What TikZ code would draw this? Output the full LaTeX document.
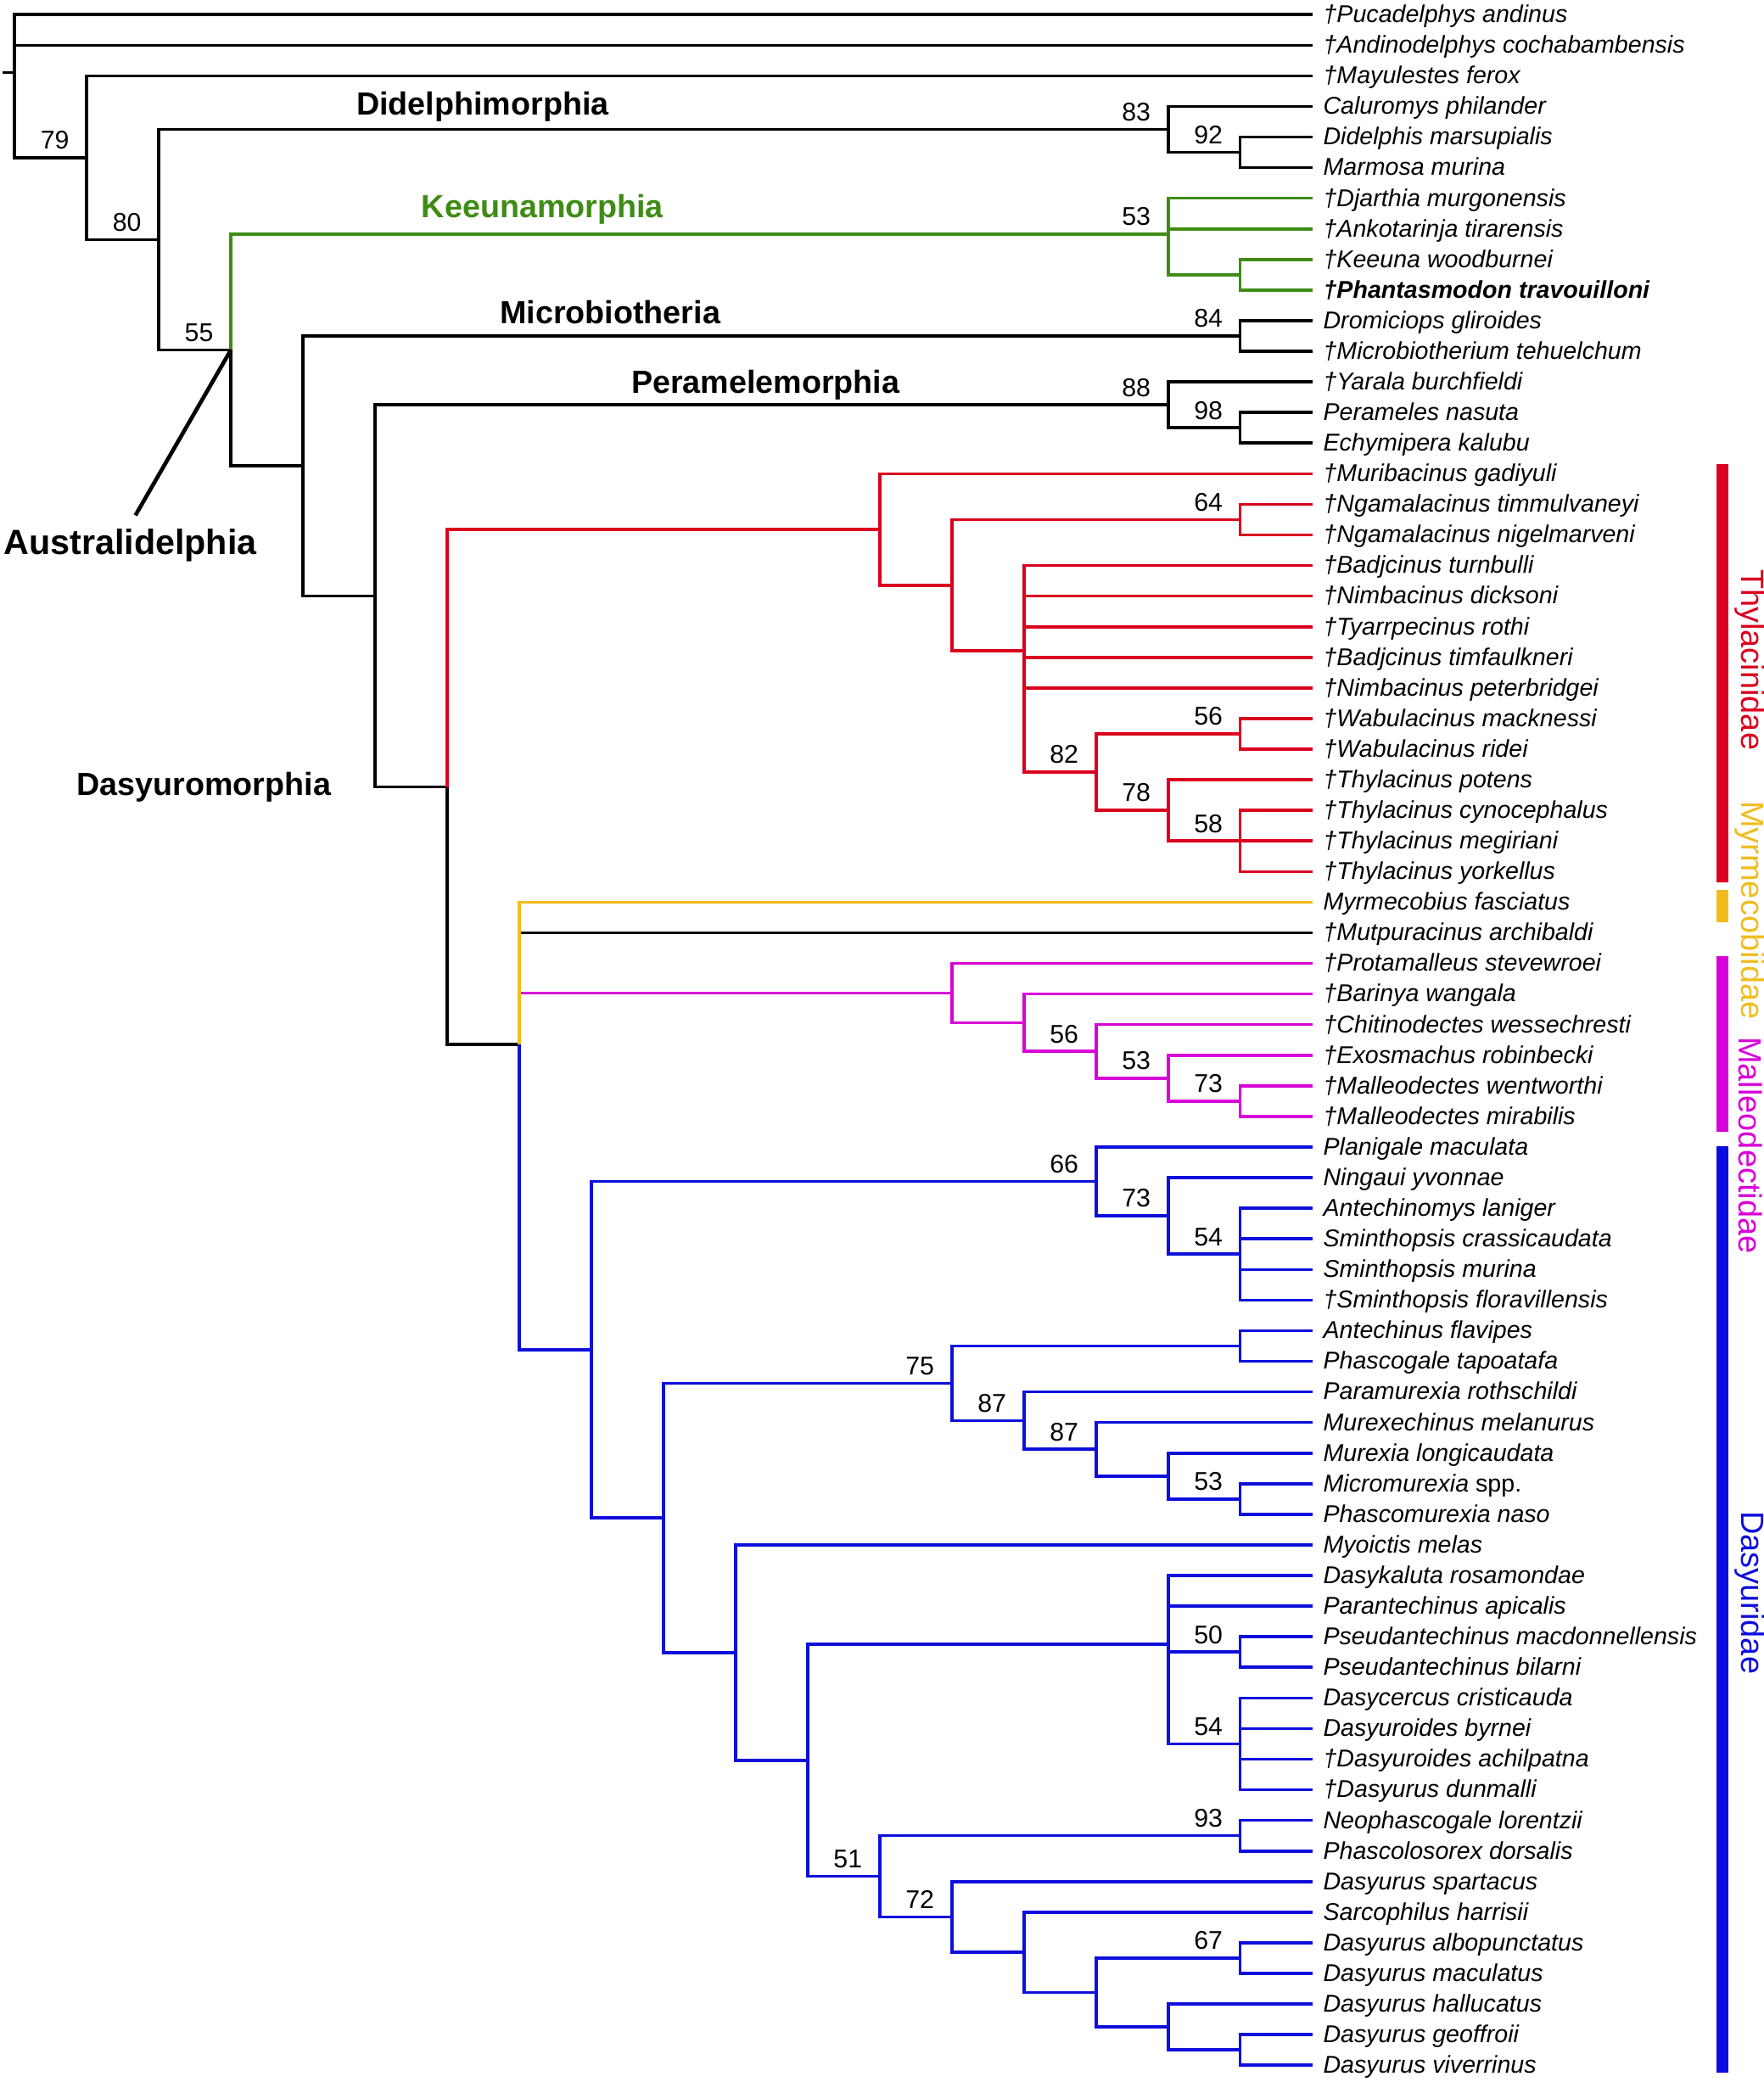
\documentclass[tikz,border=0pt]{standalone}
\usepackage{fontspec}
\setmainfont{Liberation Sans}
\usetikzlibrary{positioning}

\definecolor{keegreen}{RGB}{62,140,22}
\definecolor{thyred}{RGB}{218,0,30}
\definecolor{myryellow}{RGB}{240,188,30}
\definecolor{malmagenta}{RGB}{216,0,216}
\definecolor{dasblue}{RGB}{14,14,220}

\tikzset{
  branch/.style={line width=1.3pt},
  taxon/.style={anchor=west, inner xsep=4.5pt, inner ysep=0pt, text height=6.8pt, text depth=0pt, font=\fontsize{10.4}{12}\selectfont\itshape},
  support/.style={anchor=base, inner sep=0pt, xshift=-0.48cm, yshift=0.13cm, font=\fontsize{11}{13}\selectfont},
  clade/.style={anchor=base, inner sep=0pt, font=\fontsize{13.7}{16}\selectfont\bfseries},
  family/.style={rotate=-90, inner sep=0pt, font=\fontsize{13.8}{16}\selectfont}
}

\begin{document}
\begin{tikzpicture}[x=1.0858cm, y=-0.461cm]
  \useasboundingbox (-0.2026,-0.4772) rectangle (24.259,67.548);

  % taxa
  \node[taxon] (puc) at (18,0) {†Pucadelphys andinus};
  \node[taxon] (andi) at (18,1) {†Andinodelphys cochabambensis};
  \node[taxon] (may) at (18,2) {†Mayulestes ferox};
  \node[taxon] (calu) at (18,3) {Caluromys philander};
  \node[taxon] (didel) at (18,4) {Didelphis marsupialis};
  \node[taxon] (marm) at (18,5) {Marmosa murina};
  \node[taxon] (djar) at (18,6) {†Djarthia murgonensis};
  \node[taxon] (anko) at (18,7) {†Ankotarinja tirarensis};
  \node[taxon] (keeu) at (18,8) {†Keeuna woodburnei};
  \node[taxon] (phan) at (18,9) {\bfseries †Phantasmodon travouilloni};
  \node[taxon] (drom) at (18,10) {Dromiciops gliroides};
  \node[taxon] (micro) at (18,11) {†Microbiotherium tehuelchum};
  \node[taxon] (yara) at (18,12) {†Yarala burchfieldi};
  \node[taxon] (pera) at (18,13) {Perameles nasuta};
  \node[taxon] (echy) at (18,14) {Echymipera kalubu};
  \node[taxon] (muri) at (18,15) {†Muribacinus gadiyuli};
  \node[taxon] (ngtim) at (18,16) {†Ngamalacinus timmulvaneyi};
  \node[taxon] (ngnig) at (18,17) {†Ngamalacinus nigelmarveni};
  \node[taxon] (badtur) at (18,18) {†Badjcinus turnbulli};
  \node[taxon] (nimdic) at (18,19) {†Nimbacinus dicksoni};
  \node[taxon] (tyar) at (18,20) {†Tyarrpecinus rothi};
  \node[taxon] (badtim) at (18,21) {†Badjcinus timfaulkneri};
  \node[taxon] (nimpet) at (18,22) {†Nimbacinus peterbridgei};
  \node[taxon] (wabmac) at (18,23) {†Wabulacinus macknessi};
  \node[taxon] (wabrid) at (18,24) {†Wabulacinus ridei};
  \node[taxon] (thypot) at (18,25) {†Thylacinus potens};
  \node[taxon] (thycyn) at (18,26) {†Thylacinus cynocephalus};
  \node[taxon] (thymeg) at (18,27) {†Thylacinus megiriani};
  \node[taxon] (thyyor) at (18,28) {†Thylacinus yorkellus};
  \node[taxon] (myrm) at (18,29) {Myrmecobius fasciatus};
  \node[taxon] (mutp) at (18,30) {†Mutpuracinus archibaldi};
  \node[taxon] (prot) at (18,31) {†Protamalleus stevewroei};
  \node[taxon] (bari) at (18,32) {†Barinya wangala};
  \node[taxon] (chit) at (18,33) {†Chitinodectes wessechresti};
  \node[taxon] (exos) at (18,34) {†Exosmachus robinbecki};
  \node[taxon] (malwen) at (18,35) {†Malleodectes wentworthi};
  \node[taxon] (malmir) at (18,36) {†Malleodectes mirabilis};
  \node[taxon] (plan) at (18,37) {Planigale maculata};
  \node[taxon] (ning) at (18,38) {Ningaui yvonnae};
  \node[taxon] (antlan) at (18,39) {Antechinomys laniger};
  \node[taxon] (smicra) at (18,40) {Sminthopsis crassicaudata};
  \node[taxon] (smimur) at (18,41) {Sminthopsis murina};
  \node[taxon] (smiflo) at (18,42) {†Sminthopsis floravillensis};
  \node[taxon] (antfla) at (18,43) {Antechinus flavipes};
  \node[taxon] (phatap) at (18,44) {Phascogale tapoatafa};
  \node[taxon] (paramu) at (18,45) {Paramurexia rothschildi};
  \node[taxon] (murmel) at (18,46) {Murexechinus melanurus};
  \node[taxon] (murlon) at (18,47) {Murexia longicaudata};
  \node[taxon] (micmur) at (18,48) {Micromurexia \textup{spp.}};
  \node[taxon] (phasna) at (18,49) {Phascomurexia naso};
  \node[taxon] (myoi) at (18,50) {Myoictis melas};
  \node[taxon] (dasros) at (18,51) {Dasykaluta rosamondae};
  \node[taxon] (parapi) at (18,52) {Parantechinus apicalis};
  \node[taxon] (psemac) at (18,53) {Pseudantechinus macdonnellensis};
  \node[taxon] (psebil) at (18,54) {Pseudantechinus bilarni};
  \node[taxon] (dascri) at (18,55) {Dasycercus cristicauda};
  \node[taxon] (dsdbyr) at (18,56) {Dasyuroides byrnei};
  \node[taxon] (dsdach) at (18,57) {†Dasyuroides achilpatna};
  \node[taxon] (dsudun) at (18,58) {†Dasyurus dunmalli};
  \node[taxon] (neop) at (18,59) {Neophascogale lorentzii};
  \node[taxon] (phasdo) at (18,60) {Phascolosorex dorsalis};
  \node[taxon] (dsuspa) at (18,61) {Dasyurus spartacus};
  \node[taxon] (sarc) at (18,62) {Sarcophilus harrisii};
  \node[taxon] (dsualb) at (18,63) {Dasyurus albopunctatus};
  \node[taxon] (dsumac) at (18,64) {Dasyurus maculatus};
  \node[taxon] (dsuhal) at (18,65) {Dasyurus hallucatus};
  \node[taxon] (dsugeo) at (18,66) {Dasyurus geoffroii};
  \node[taxon] (dsuviv) at (18,67) {Dasyurus viverrinus};

  % internal nodes
  \coordinate (stub) at (-0.17,1.8922);
  \coordinate (root) at (0,1.8922);
  \coordinate (n79) at (1,4.6766);
  \coordinate (n80) at (2,7.3533);
  \coordinate (n55) at (3,10.9565);
  \coordinate (nmb) at (4,14.7463);
  \coordinate (npm) at (5,18.9927);
  \coordinate (ndas) at (6,25.2353);
  \coordinate (ndm) at (7,33.6477);
  \coordinate (ndy) at (8,43.6221);
  \coordinate (did) at (16,3.75);
  \coordinate (n92) at (17,4.5);
  \coordinate (kee) at (16,7.1667);
  \coordinate (k2) at (17,8.5);
  \coordinate (mic) at (17,10.5);
  \coordinate (per) at (16,12.75);
  \coordinate (n98) at (17,13.5);
  \coordinate (thy) at (12,16.8229);
  \coordinate (t2) at (13,18.6458);
  \coordinate (n64) at (17,16.5);
  \coordinate (t3) at (14,20.7917);
  \coordinate (n82) at (15,24.75);
  \coordinate (n56) at (17,23.5);
  \coordinate (n78) at (16,26);
  \coordinate (n58) at (17,27);
  \coordinate (mal) at (13,31.9688);
  \coordinate (m2) at (14,32.9375);
  \coordinate (n56b) at (15,33.875);
  \coordinate (n53) at (16,34.75);
  \coordinate (n73) at (17,35.5);
  \coordinate (n66) at (15,38.125);
  \coordinate (n73b) at (16,39.25);
  \coordinate (n54) at (17,40.5);
  \coordinate (n500) at (9,49.1191);
  \coordinate (n75) at (13,44.7188);
  \coordinate (nap) at (17,43.5);
  \coordinate (n87) at (14,45.9375);
  \coordinate (n87b) at (15,46.875);
  \coordinate (nmx) at (16,47.75);
  \coordinate (n53b) at (17,48.5);
  \coordinate (n555) at (10,53.5195);
  \coordinate (n609) at (11,57.0391);
  \coordinate (npa) at (16,53.25);
  \coordinate (n50) at (17,53.5);
  \coordinate (n54b) at (17,56.5);
  \coordinate (n51) at (12,60.8281);
  \coordinate (n93) at (17,59.5);
  \coordinate (n72) at (13,62.1563);
  \coordinate (nsa) at (14,63.3125);
  \coordinate (ndq) at (15,64.625);
  \coordinate (n67) at (17,63.5);
  \coordinate (ndh) at (16,65.75);
  \coordinate (ndg) at (17,66.5);
  \coordinate (aus-tip) at (1.676,16.36);

  % black backbone
  \draw[branch] (stub) -- (root);
  \draw[branch] (root) |- (puc.west) (root) |- (andi.west) (root) |- (n79);
  \draw[branch] (n79) |- (may.west) (n79) |- (n80);
  \draw[branch] (n80) |- (did) (n80) |- (n55);
  \draw[branch] (did) |- (calu.west) (did) |- (n92);
  \draw[branch] (n92) |- (didel.west) (n92) |- (marm.west);
  \draw[branch] (n55) |- (nmb);
  \draw[branch] (nmb) |- (mic) (nmb) |- (npm);
  \draw[branch] (mic) |- (drom.west) (mic) |- (micro.west);
  \draw[branch] (npm) |- (per) (npm) |- (ndas);
  \draw[branch] (per) |- (yara.west) (per) |- (n98);
  \draw[branch] (n98) |- (pera.west) (n98) |- (echy.west);
  \draw[branch] (ndas) |- (ndm);
  \draw[branch] (ndm) |- (mutp.west);

  % Keeunamorphia
  \draw[branch, keegreen] (n55) |- (kee) (kee) |- (djar.west) (kee) |- (anko.west) (kee) |- (k2)
    (k2) |- (keeu.west) (k2) |- (phan.west);

  % Thylacinidae
  \draw[branch, thyred] (ndas) |- (thy) (thy) |- (muri.west) (thy) |- (t2)
    (t2) |- (n64) (n64) |- (ngtim.west) (n64) |- (ngnig.west)
    (t2) |- (t3) (t3) |- (badtur.west) (t3) |- (nimdic.west) (t3) |- (tyar.west)
    (t3) |- (badtim.west) (t3) |- (nimpet.west) (t3) |- (n82)
    (n82) |- (n56) (n56) |- (wabmac.west) (n56) |- (wabrid.west)
    (n82) |- (n78) (n78) |- (thypot.west) (n78) |- (n58)
    (n58) |- (thycyn.west) (n58) |- (thymeg.west) (n58) |- (thyyor.west);

  % Malleodectidae
  \draw[branch, malmagenta] (ndm) |- (mal) (mal) |- (prot.west) (mal) |- (m2)
    (m2) |- (bari.west) (m2) |- (n56b) (n56b) |- (chit.west) (n56b) |- (n53)
    (n53) |- (exos.west) (n53) |- (n73) (n73) |- (malwen.west) (n73) |- (malmir.west);

  % Dasyuridae
  \draw[branch, dasblue] (ndm) |- (ndy) (ndy) |- (n66) (ndy) |- (n500)
    (n66) |- (plan.west) (n66) |- (n73b) (n73b) |- (ning.west) (n73b) |- (n54)
    (n54) |- (antlan.west) (n54) |- (smicra.west) (n54) |- (smimur.west) (n54) |- (smiflo.west)
    (n500) |- (n75) (n500) |- (n555)
    (n75) |- (nap) (nap) |- (antfla.west) (nap) |- (phatap.west)
    (n75) |- (n87) (n87) |- (paramu.west) (n87) |- (n87b)
    (n87b) |- (murmel.west) (n87b) |- (nmx) (nmx) |- (murlon.west) (nmx) |- (n53b)
    (n53b) |- (micmur.west) (n53b) |- (phasna.west)
    (n555) |- (myoi.west) (n555) |- (n609)
    (n609) |- (npa) (n609) |- (n51)
    (npa) |- (dasros.west) (npa) |- (parapi.west) (npa) |- (n50) (npa) |- (n54b)
    (n50) |- (psemac.west) (n50) |- (psebil.west)
    (n54b) |- (dascri.west) (n54b) |- (dsdbyr.west) (n54b) |- (dsdach.west) (n54b) |- (dsudun.west)
    (n51) |- (n93) (n51) |- (n72)
    (n93) |- (neop.west) (n93) |- (phasdo.west)
    (n72) |- (dsuspa.west) (n72) |- (nsa) (nsa) |- (sarc.west) (nsa) |- (ndq)
    (ndq) |- (n67) (ndq) |- (ndh)
    (n67) |- (dsualb.west) (n67) |- (dsumac.west)
    (ndh) |- (dsuhal.west) (ndh) |- (ndg)
    (ndg) |- (dsugeo.west) (ndg) |- (dsuviv.west);

  % Myrmecobiidae
  \draw[branch, myryellow] (ndm) |- (myrm.west);

  % support values
  \node[support] (s-n79) at (n79) {79};
  \node[support] (s-n80) at (n80) {80};
  \node[support] (s-n55) at (n55) {55};
  \node[support] (s-did) at (did) {83};
  \node[support] (s-n92) at (n92) {92};
  \node[support] (s-kee) at (kee) {53};
  \node[support] (s-mic) at (mic) {84};
  \node[support] (s-per) at (per) {88};
  \node[support] (s-n98) at (n98) {98};
  \node[support] (s-n64) at (n64) {64};
  \node[support] (s-n56) at (n56) {56};
  \node[support] (s-n82) at (n82) {82};
  \node[support] (s-n78) at (n78) {78};
  \node[support] (s-n58) at (n58) {58};
  \node[support] (s-n56b) at (n56b) {56};
  \node[support] (s-n53) at (n53) {53};
  \node[support] (s-n73) at (n73) {73};
  \node[support] (s-n66) at (n66) {66};
  \node[support] (s-n73b) at (n73b) {73};
  \node[support] (s-n54) at (n54) {54};
  \node[support] (s-n75) at (n75) {75};
  \node[support] (s-n87) at (n87) {87};
  \node[support] (s-n87b) at (n87b) {87};
  \node[support] (s-n53b) at (n53b) {53};
  \node[support] (s-n50) at (n50) {50};
  \node[support] (s-n54b) at (n54b) {54};
  \node[support] (s-n93) at (n93) {93};
  \node[support] (s-n51) at (n51) {51};
  \node[support] (s-n72) at (n72) {72};
  \node[support] (s-n67) at (n67) {67};

  % clade names
  \node[clade] (lab-did) at (6.493,3.29) {Didelphimorphia};
  \node[clade, keegreen] (lab-kee) at (7.322,6.64) {Keeunamorphia};
  \node[clade] (lab-mic) at (8.261,10.1) {Microbiotheria};
  \node[clade] (lab-per) at (10.416,12.37) {Peramelemorphia};
  \node[clade] (lab-das) at (2.625,25.51) {Dasyuromorphia};
  \node[clade, font=\fontsize{15}{18}\selectfont\bfseries] (lab-aus) at (1.603,17.64) {Australidelphia};
  \draw[line width=1.7pt] (aus-tip) -- (n55);

  % family bars
  \fill[thyred] (23.603,14.677) rectangle (23.772,28.338);
  \fill[myryellow] (23.603,28.59) rectangle (23.772,29.66);
  \fill[malmagenta] (23.603,30.76) rectangle (23.772,36.51);
  \fill[dasblue!90!blue] (23.603,36.98) rectangle (23.772,67.25);
  \node[family, thyred] (fam-thy) at (24.074,21.08) {Thylacinidae};
  \node[family, myryellow] (fam-myr) at (24.074,29.26) {Myrmecobiidae};
  \node[family, malmagenta] (fam-mal) at (24.074,36.94) {Malleodectidae};
  \node[family, dasblue] (fam-das) at (24.074,51.56) {Dasyuridae};
\end{tikzpicture}
\end{document}
